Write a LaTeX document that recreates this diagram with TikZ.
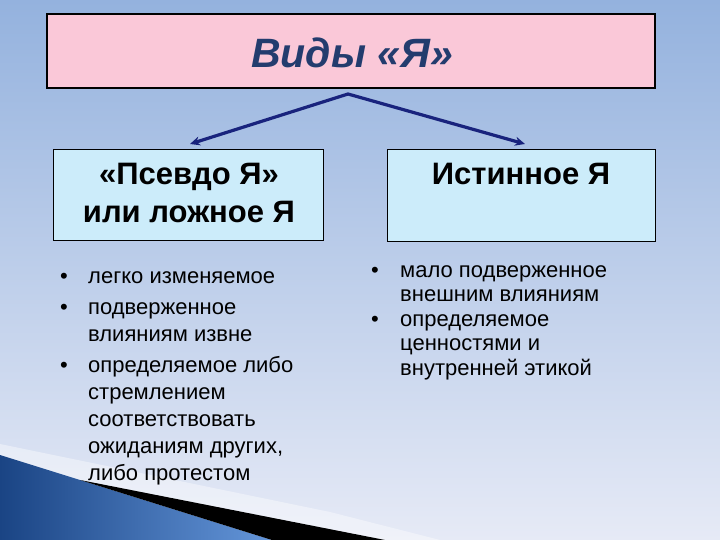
\documentclass[tikz,border=0pt]{standalone}
\usepackage{fontspec}
\setmainfont{Liberation Sans}
\usetikzlibrary{arrows.meta}
\definecolor{bgtop}{RGB}{148,178,222}
\definecolor{bgbot}{RGB}{230,234,246}
\definecolor{titlefill}{RGB}{250,200,216}
\definecolor{titletext}{RGB}{35,60,110}
\definecolor{boxfill}{RGB}{204,236,250}
\definecolor{arrowc}{RGB}{25,35,125}
\definecolor{bluedark}{RGB}{26,68,132}
\definecolor{bluelight}{RGB}{100,150,218}
\begin{document}
\begin{tikzpicture}[x=1pt,y=-1pt,
  titlebox/.style={draw=black, line width=1.1pt, fill=titlefill, inner sep=0pt},
  headbox/.style={draw=black, line width=1pt, fill=boxfill, inner sep=0pt},
  headtext/.style={anchor=base, inner sep=0pt, font=\fontsize{31}{38}\selectfont\bfseries},
  itemtext/.style={anchor=base west, inner sep=0pt, font=\fontsize{22}{27}\selectfont},
  itemtextr/.style={anchor=base west, inner sep=0pt, font=\fontsize{22}{24.5}\selectfont},
  bul/.style={anchor=base, inner sep=0pt, font=\fontsize{22}{27}\selectfont},
  link/.style={draw=arrowc, line width=3.2pt, line join=miter}
]
% background
\shade[top color=bgtop, bottom color=bgbot] (0,0) rectangle (720,540);
\useasboundingbox (0,0) rectangle (720,540);
% bottom-left decoration
\fill[white, opacity=0.4] (0,444) -- (330,512) -- (440,540) -- (0,540) -- cycle;
\shade[left color=bluedark, right color=bluelight] (0,455) -- (272,540) -- (0,540) -- cycle;
\fill[black] (80,480) -- (385,540) -- (272,540) -- cycle;

% title
\node[titlebox, minimum width=608pt, minimum height=74pt] (title) at (351,51) {};
\node[anchor=base, inner sep=0pt, text=titletext, font=\fontsize{41}{48}\selectfont\bfseries\itshape] (titletxt) at (352,68) {Виды «Я»};

% head boxes
\node[headbox, minimum width=270pt, minimum height=90pt] (pseudo) at (188,195) {};
\node[headbox, minimum width=268pt, minimum height=91pt] (true) at (521,195.5) {};
\node[headtext] (pseudotxt) at (189,185) {\parbox[t]{264pt}{\centering «Псевдо Я»\\или ложное Я}};
\node[headtext] (truetxt) at (521,185) {Истинное Я};

% arrows
\coordinate (apex) at (348,94);
\coordinate (ltip) at (190,144);
\coordinate (rtip) at (525,144);
\draw[link, {Stealth[length=10pt,width=9pt]}-{Stealth[length=10pt,width=9pt]}] (ltip) -- (apex) -- (rtip);

% left list
\node[bul] (lb1) at (64,283) {•};
\node[itemtext] (l1) at (88,283) {легко изменяемое};
\node[bul] (lb2) at (64,314) {•};
\node[itemtext] (l2) at (88,314) {\parbox[t]{240pt}{подверженное\\влияниям извне}};
\node[bul] (lb3) at (64,372) {•};
\node[itemtext] (l3) at (88,372) {\parbox[t]{240pt}{определяемое либо\\стремлением\\соответствовать\\ожиданиям других,\\либо протестом}};

% right list
\node[bul] (rb1) at (375,277) {•};
\node[itemtextr] (r1) at (400,277) {\parbox[t]{260pt}{мало подверженное\\внешним влияниям}};
\node[bul] (rb2) at (375,326) {•};
\node[itemtextr] (r2) at (400,326) {\parbox[t]{260pt}{определяемое\\ценностями и\\внутренней этикой}};
\end{tikzpicture}
\end{document}
